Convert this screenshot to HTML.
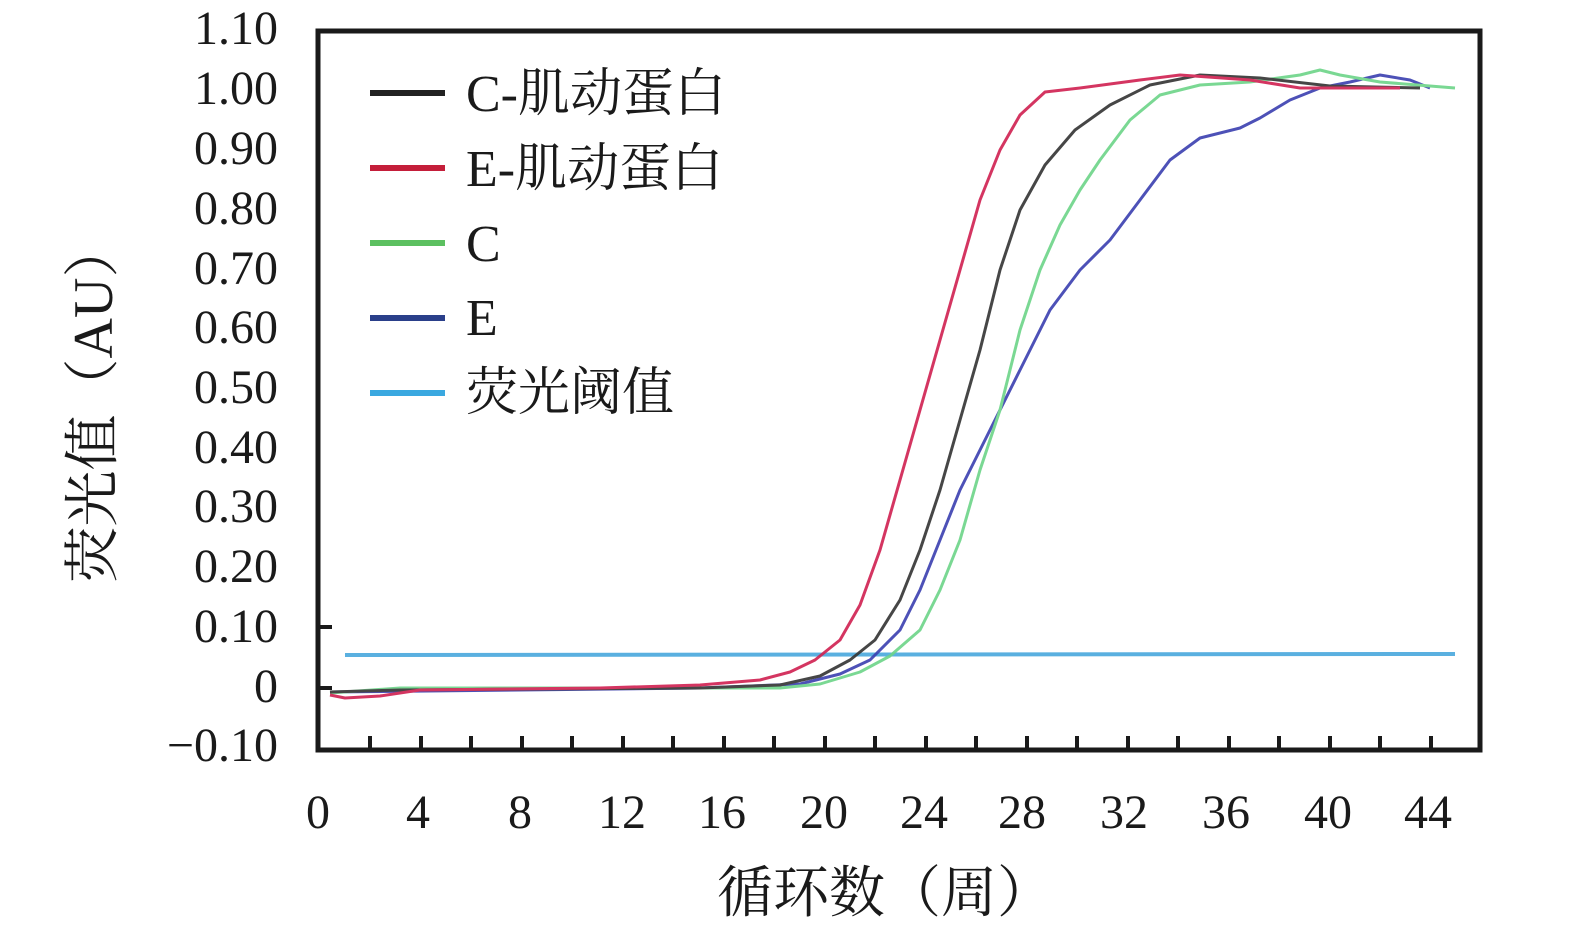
<!DOCTYPE html>
<html><head><meta charset="utf-8"><style>body{margin:0;background:#fff}svg{display:block}</style></head><body>
<svg width="1575" height="929" xmlns="http://www.w3.org/2000/svg" font-family="Liberation Serif, Noto Serif CJK SC, serif">
<rect x="318" y="31" width="1162" height="719" fill="none" stroke="#1a1a1a" stroke-width="5"/>
<g stroke="#1a1a1a" stroke-width="4">
<line x1="318" y1="627" x2="332" y2="627"/><line x1="318" y1="688" x2="332" y2="688"/>
<line x1="370" y1="750" x2="370" y2="736"/><line x1="421" y1="750" x2="421" y2="736"/><line x1="471" y1="750" x2="471" y2="736"/><line x1="522" y1="750" x2="522" y2="736"/><line x1="572" y1="750" x2="572" y2="736"/><line x1="623" y1="750" x2="623" y2="736"/><line x1="673" y1="750" x2="673" y2="736"/><line x1="724" y1="750" x2="724" y2="736"/><line x1="774" y1="750" x2="774" y2="736"/><line x1="825" y1="750" x2="825" y2="736"/><line x1="875" y1="750" x2="875" y2="736"/><line x1="926" y1="750" x2="926" y2="736"/><line x1="976" y1="750" x2="976" y2="736"/><line x1="1027" y1="750" x2="1027" y2="736"/><line x1="1077" y1="750" x2="1077" y2="736"/><line x1="1128" y1="750" x2="1128" y2="736"/><line x1="1178" y1="750" x2="1178" y2="736"/><line x1="1229" y1="750" x2="1229" y2="736"/><line x1="1279" y1="750" x2="1279" y2="736"/><line x1="1330" y1="750" x2="1330" y2="736"/><line x1="1380" y1="750" x2="1380" y2="736"/><line x1="1431" y1="750" x2="1431" y2="736"/>
</g>
<g font-size="48" fill="#1a1a1a" text-anchor="end">
<text x="278" y="44">1.10</text><text x="278" y="104">1.00</text><text x="278" y="164">0.90</text><text x="278" y="224">0.80</text><text x="278" y="284">0.70</text><text x="278" y="343">0.60</text><text x="278" y="403">0.50</text><text x="278" y="463">0.40</text><text x="278" y="522">0.30</text><text x="278" y="582">0.20</text><text x="278" y="642">0.10</text><text x="278" y="702">0</text><text x="278" y="761">−0.10</text>
</g>
<g font-size="48" fill="#1a1a1a" text-anchor="middle">
<text x="318" y="828">0</text><text x="418" y="828">4</text><text x="520" y="828">8</text><text x="622" y="828">12</text><text x="722" y="828">16</text><text x="824" y="828">20</text><text x="924" y="828">24</text><text x="1022" y="828">28</text><text x="1124" y="828">32</text><text x="1226" y="828">36</text><text x="1328" y="828">40</text><text x="1428" y="828">44</text>
</g>
<text x="885" y="912" font-size="56" text-anchor="middle" fill="#1a1a1a">循环数（周）</text>
<text transform="translate(112,402) rotate(-90)" font-size="56" text-anchor="middle" fill="#1a1a1a">荧光值（AU）</text>
<line x1="345" y1="655" x2="1455" y2="654" stroke="#5ab0e0" stroke-width="4"/>
<g fill="none" stroke-width="3" stroke-linejoin="round" opacity="0.9">
<polyline stroke="#3a3fb0" points="330,692 700,688 800,684 840,674 870,660 900,630 920,590 940,540 960,490 990,430 1020,370 1050,310 1080,270 1110,240 1140,200 1170,160 1200,138 1240,128 1260,118 1290,100 1320,88 1350,82 1380,75 1410,80 1430,88"/>
<polyline stroke="#6cd488" points="330,693 400,688 780,688 820,684 860,672 890,656 920,630 940,590 960,540 980,470 1000,410 1020,330 1040,270 1060,225 1080,190 1100,160 1130,120 1160,95 1200,85 1250,82 1300,75 1320,70 1340,75 1380,82 1455,88"/>
<polyline stroke="#333" points="330,692 400,690 700,688 780,685 820,676 850,660 875,640 900,600 920,550 940,490 960,420 980,350 1000,270 1020,210 1045,165 1075,130 1110,105 1150,85 1200,75 1260,78 1330,86 1420,88"/>
<polyline stroke="#d02050" points="330,695 345,698 380,696 420,690 600,688 700,685 760,680 790,672 815,660 840,640 860,605 880,550 900,480 920,410 940,340 960,270 980,200 1000,150 1020,115 1045,92 1080,88 1140,80 1180,75 1250,80 1300,88 1400,88"/>
</g>
<g stroke-width="6">
<line x1="370" y1="93" x2="445" y2="93" stroke="#222"/>
<line x1="370" y1="168" x2="445" y2="168" stroke="#c41e3a"/>
<line x1="370" y1="243" x2="445" y2="243" stroke="#5cc060"/>
<line x1="370" y1="318" x2="445" y2="318" stroke="#2a3f8a"/>
<line x1="370" y1="393" x2="445" y2="393" stroke="#3aa8e0"/>
</g>
<g font-size="52" fill="#1a1a1a">
<text x="466" y="111">C-肌动蛋白</text><text x="466" y="186">E-肌动蛋白</text><text x="466" y="261">C</text><text x="466" y="335">E</text><text x="466" y="410">荧光阈值</text>
</g>
</svg>
</body></html>
